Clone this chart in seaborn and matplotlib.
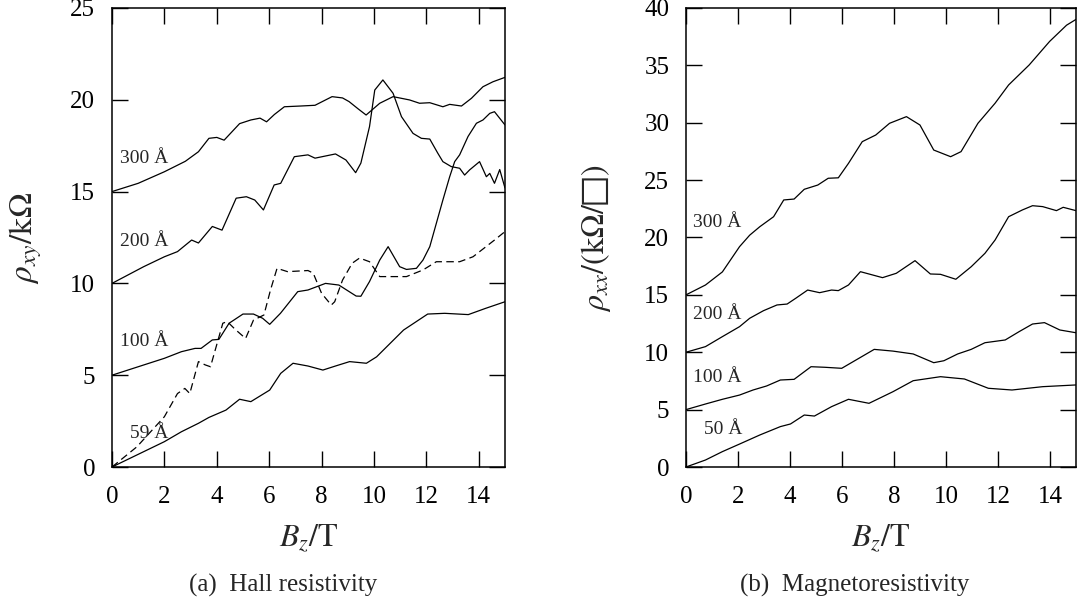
import numpy as np
import matplotlib
matplotlib.use("Agg")
import matplotlib.pyplot as plt
import seaborn as sns

# ---- (a) Hall resistivity, rho_xy in kOhm vs B_z in T ----
hall_300_b = [0, 1.0, 2.0, 2.8, 3.3, 3.7, 4.0, 4.28, 4.87, 5.3, 5.65, 5.9, 6.2, 6.58, 7.2, 7.75, 8.4,
              8.8, 9.05, 9.4, 9.7, 10.22, 10.73, 11.36, 11.74, 12.13, 12.63, 12.89, 13.34, 13.72,
              14.16, 14.54, 15.0]
hall_300 = [15.0, 15.45, 16.08, 16.65, 17.17, 17.9, 17.95, 17.8, 18.7, 18.9, 19.0, 18.8, 19.2, 19.62,
            19.66, 19.7, 20.17, 20.1, 19.9, 19.5, 19.17, 19.81, 20.17, 19.99, 19.81, 19.84, 19.62,
            19.75, 19.66, 20.08, 20.71, 20.98, 21.22]

hall_200_b = [0, 1.21, 2.0, 2.5, 3.04, 3.3, 3.83, 4.2, 4.74, 5.13, 5.45, 5.78, 6.19, 6.44, 6.96, 7.48,
              7.75, 8.53, 8.93, 9.3, 9.5, 9.83, 10.03, 10.34, 10.73, 11.05, 11.49, 11.81, 12.13,
              12.44, 12.63, 12.95, 13.27, 13.46, 13.65, 14.03, 14.29, 14.42, 14.6, 14.8, 15.0]
hall_200 = [10.0, 10.91, 11.45, 11.73, 12.36, 12.2, 13.1, 12.9, 14.64, 14.72, 14.54, 14.0, 15.36,
            15.45, 16.9, 17.0, 16.82, 17.05, 16.72, 16.03, 16.55, 18.54, 20.53, 21.08, 20.35, 19.08,
            18.17, 17.9, 17.86, 17.08, 16.63, 16.36, 16.27, 15.9, 16.18, 16.63, 15.81, 15.99, 15.45,
            16.2, 15.2]

hall_100_b = [0, 2.0, 2.65, 3.17, 3.4, 3.83, 4.08, 4.47, 5.0, 5.4, 5.75, 6.02, 6.43, 7.09, 7.48, 8.15,
              8.66, 9.0, 9.32, 9.5, 9.83, 10.22, 10.54, 10.98, 11.24, 11.62, 11.87, 12.13, 12.38,
              12.63, 12.89, 13.08, 13.27, 13.59, 13.91, 14.16, 14.42, 14.6, 15.0]
hall_100 = [5.0, 5.92, 6.28, 6.46, 6.46, 6.92, 6.95, 7.83, 8.33, 8.33, 8.1, 7.77, 8.37, 9.55, 9.64,
            10.0, 9.91, 9.6, 9.31, 9.3, 10.1, 11.27, 12.0, 10.91, 10.76, 10.82, 11.27, 12.0, 13.27,
            14.54, 15.81, 16.63, 17.0, 18.0, 18.72, 18.9, 19.26, 19.35, 18.63]

hall_59_b = [0, 2.0, 2.65, 3.3, 3.7, 4.35, 4.87, 5.3, 6.02, 6.44, 6.91, 7.48, 8.05, 8.53, 9.07, 9.71,
             10.1, 11.13, 12.05, 12.7, 13.6, 14.26, 15.0]
hall_59 = [0, 1.38, 1.92, 2.38, 2.7, 3.1, 3.69, 3.56, 4.19, 5.1, 5.65, 5.5, 5.28, 5.5, 5.74, 5.65,
           6.0, 7.46, 8.33, 8.37, 8.3, 8.64, 9.0]

hall_dash_b = [0, 0.95, 2.0, 2.5, 2.78, 2.97, 3.3, 3.56, 3.76, 4.23, 4.4, 4.7, 5.1, 5.4, 5.8, 6.05,
               6.3, 6.7, 7.48, 7.68, 8.0, 8.37, 8.5, 8.8, 9.17, 9.45, 9.83, 10.22, 11.24, 11.87,
               12.38, 13.27, 13.78, 14.6, 15.0]
hall_dash = [0, 1.1, 2.74, 4.0, 4.28, 4.0, 5.74, 5.56, 5.46, 7.83, 7.92, 7.5, 7.0, 8.0, 8.28, 9.64,
             10.82, 10.64, 10.7, 10.56, 9.46, 8.82, 9.0, 10.18, 11.1, 11.38, 11.18, 10.37, 10.37,
             10.73, 11.18, 11.18, 11.45, 12.36, 12.82]

# ---- (b) Magnetoresistivity, rho_xx in kOhm/sq vs B_z in T ----
mr_300_b = [0, 0.75, 1.4, 2.06, 2.45, 2.84, 3.37, 3.76, 4.16, 4.55, 5.07, 5.47, 5.86, 6.25, 6.78,
            7.3, 7.83, 8.48, 9.0, 9.53, 10.18, 10.58, 11.23, 11.89, 12.41, 13.2, 13.99, 14.64, 15.0]
mr_300 = [15.0, 15.86, 17.0, 19.2, 20.2, 20.94, 21.81, 23.27, 23.35, 24.2, 24.57, 25.16, 25.2, 26.46,
          28.35, 28.93, 29.95, 30.53, 29.8, 27.62, 27.04, 27.48, 29.95, 31.7, 33.29, 35.03, 37.09,
          38.5, 39.0]

mr_200_b = [0, 0.75, 1.4, 2.06, 2.45, 2.98, 3.5, 3.89, 4.22, 4.68, 5.14, 5.6, 5.86, 6.25, 6.71, 7.56,
            8.09, 8.81, 9.4, 9.79, 10.38, 10.97, 11.5, 11.89, 12.41, 12.94, 13.33, 13.72, 14.25,
            14.51, 15.0]
mr_200 = [10.0, 10.49, 11.36, 12.23, 12.96, 13.62, 14.12, 14.2, 14.7, 15.42, 15.19, 15.42, 15.37,
          15.86, 17.02, 16.5, 16.88, 17.98, 16.82, 16.79, 16.36, 17.45, 18.62, 19.78, 21.81, 22.4,
          22.77, 22.69, 22.34, 22.63, 22.34]

mr_100_b = [0, 0.75, 1.4, 2.06, 2.58, 3.1, 3.63, 4.16, 4.81, 5.34, 5.99, 6.65, 7.24, 7.96, 8.74, 9.53,
            9.92, 10.45, 10.97, 11.5, 12.28, 12.81, 13.33, 13.79, 14.38, 15.0]
mr_100 = [5.0, 5.49, 5.9, 6.27, 6.71, 7.06, 7.58, 7.64, 8.74, 8.69, 8.6, 9.47, 10.25, 10.1, 9.85, 9.09,
          9.26, 9.85, 10.25, 10.83, 11.07, 11.79, 12.46, 12.58, 11.94, 11.7]

mr_50_b = [0, 0.75, 1.4, 2.06, 2.84, 3.63, 4.02, 4.55, 4.94, 5.6, 6.25, 7.04, 7.96, 8.74, 9.79, 10.71,
           11.63, 12.54, 13.72, 15.0]
mr_50 = [0, 0.61, 1.34, 2.0, 2.79, 3.52, 3.75, 4.53, 4.44, 5.26, 5.9, 5.55, 6.56, 7.52, 7.87, 7.67,
         6.86, 6.71, 7.0, 7.15]

hall_labels = ["300 Å", "200 Å", "100 Å", "59 Å"]
hall_label_pos = [(0.3, 16.8), (0.3, 12.27), (0.3, 6.83), (0.7, 1.83)]
mr_labels = ["300 Å", "200 Å", "100 Å", "50 Å"]
mr_label_pos = [(0.28, 21.3), (0.28, 13.25), (0.28, 7.79), (0.68, 3.31)]

sns.set_theme(style="ticks")
plt.rcParams["font.family"] = ["Liberation Serif", "DejaVu Serif"]
plt.rcParams["mathtext.fontset"] = "stix"

fig = plt.figure(figsize=(10.82, 6.08), dpi=100)
ax1 = fig.add_axes([0.1035, 0.2319, 0.3632, 0.755])
ax2 = fig.add_axes([0.634, 0.2319, 0.3604, 0.755])


def draw(ax, b, rho, dashed=False):
    sns.lineplot(x=b, y=rho, ax=ax, color="black", linewidth=0.9, estimator=None, sort=False)
    line = ax.lines[-1]
    line.set_solid_joinstyle("round")
    if dashed:
        line.set_dashes((6, 3.5))


for b, rho in [(hall_300_b, hall_300), (hall_200_b, hall_200), (hall_100_b, hall_100),
               (hall_59_b, hall_59)]:
    draw(ax1, b, rho)
draw(ax1, hall_dash_b, hall_dash, dashed=True)

for b, rho in [(mr_300_b, mr_300), (mr_200_b, mr_200), (mr_100_b, mr_100), (mr_50_b, mr_50)]:
    draw(ax2, b, rho)

for lab, (x, y) in zip(hall_labels, hall_label_pos):
    ax1.text(x, y, lab, fontsize=14, ha="left", va="center")
for lab, (x, y) in zip(mr_labels, mr_label_pos):
    ax2.text(x, y, lab, fontsize=14, ha="left", va="center")

ax1.set_xlim(0, 15)
ax1.set_ylim(0, 25)
ax1.set_yticks(np.arange(0, 26, 5))
ax2.set_xlim(0, 15)
ax2.set_ylim(0, 40)
ax2.set_yticks(np.arange(0, 41, 5))
for ax in (ax1, ax2):
    ax.set_xticks(np.arange(0, 15, 2))
    ax.set_xlabel("")
    ax.set_ylabel("")
    ax.tick_params(direction="in", length=11.5, width=1.0, top=True, right=True,
                   labelsize=18, colors="black")
    ax.tick_params(axis="x", pad=14)
    ax.tick_params(axis="y", pad=12)
    for sp in ax.spines.values():
        sp.set_visible(True)
        sp.set_linewidth(1.1)
        sp.set_color("black")

fig.text(26 / 1082, 1 - 238 / 608, r"$\rho_{xy}/\mathrm{k\Omega}$", rotation=90,
         ha="center", va="center", fontsize=24)
fig.text(596 / 1082, 1 - 238 / 608, r"$\rho_{xx}/(\mathrm{k}\Omega/□)$", rotation=90,
         ha="center", va="center", fontsize=23)
fig.text(308.5 / 1082, 1 - 538 / 608, r"$B_z/\mathrm{T}$", ha="center", va="center", fontsize=23)
fig.text(881 / 1082, 1 - 538 / 608, r"$B_z/\mathrm{T}$", ha="center", va="center", fontsize=23)
fig.text(283 / 1082, 1 - 585 / 608, "(a)  Hall resistivity", ha="center", va="center", fontsize=18)
fig.text(855 / 1082, 1 - 585 / 608, "(b)  Magnetoresistivity", ha="center", va="center", fontsize=18)

fig.savefig("out.png", dpi=100)
